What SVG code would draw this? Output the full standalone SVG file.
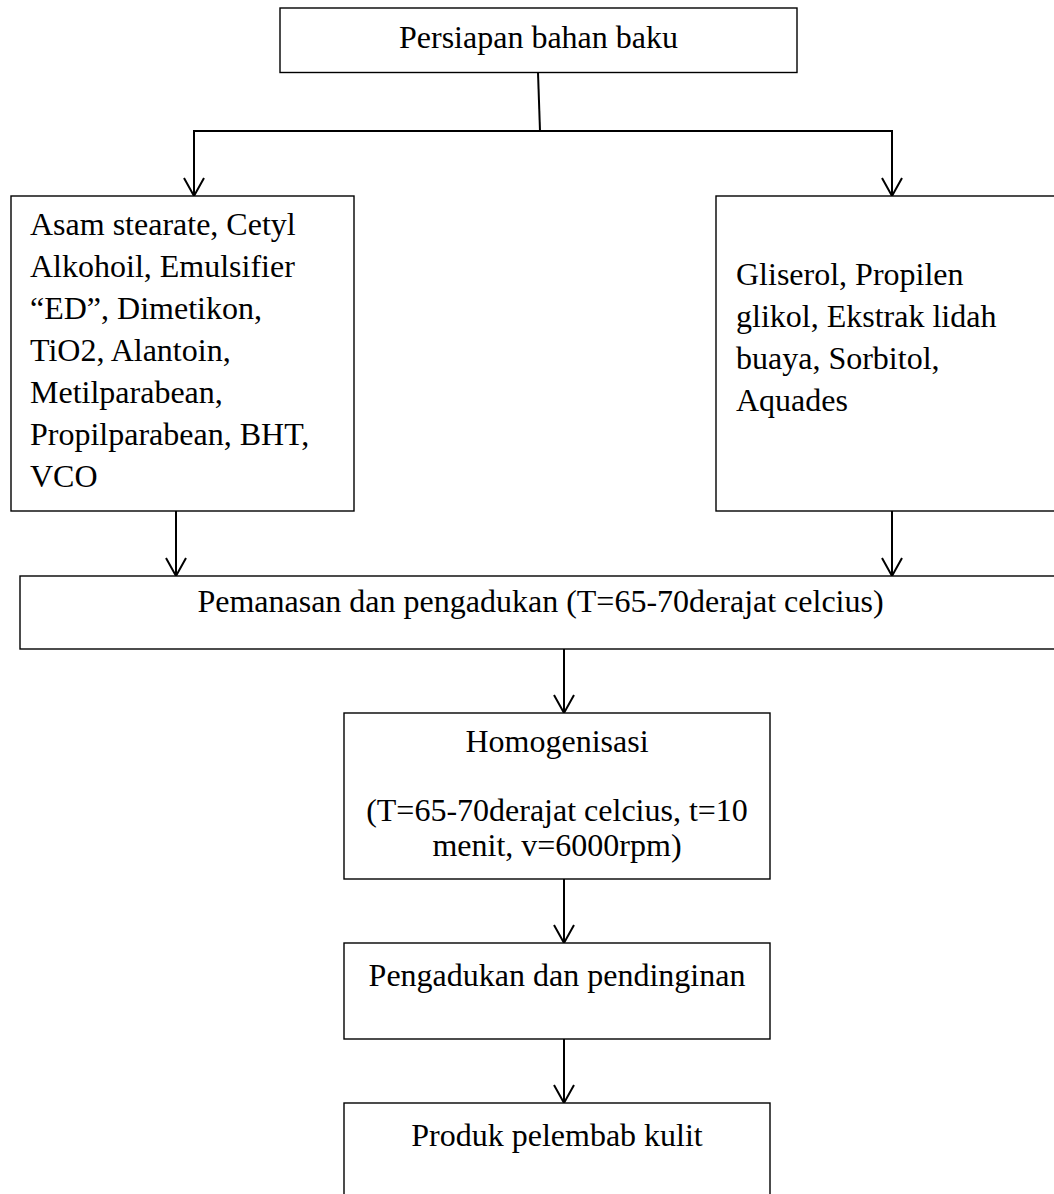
<svg xmlns="http://www.w3.org/2000/svg" width="1054" height="1194" viewBox="0 0 1054 1194">
  <style>
    .box { fill: #ffffff; stroke: #000000; stroke-width: 1.4; }
    .t { font-family: "Liberation Serif", "Times New Roman", serif; font-size: 32px; fill: #000000; }
    .c { text-anchor: middle; }
    .conn { stroke: #000000; stroke-width: 2; fill: none; }
  </style>
  <defs>
    <marker id="arrow" markerUnits="userSpaceOnUse" markerWidth="24" markerHeight="24" refX="0" refY="0" orient="auto" overflow="visible">
      <path d="M-18,-10 L0,0 L-18,10" fill="none" stroke="#000000" stroke-width="2"/>
    </marker>
  </defs>
  <rect width="1054" height="1194" fill="#ffffff"/>

  <g id="connectors">
    <line class="conn" x1="538" y1="72.5" x2="540" y2="131"/>
    <line class="conn" x1="193" y1="131" x2="893" y2="131"/>
    <line class="conn" x1="194" y1="131" x2="194" y2="196" marker-end="url(#arrow)"/>
    <line class="conn" x1="892" y1="131" x2="892" y2="196" marker-end="url(#arrow)"/>
    <line class="conn" x1="176" y1="511" x2="176" y2="576" marker-end="url(#arrow)"/>
    <line class="conn" x1="892" y1="511" x2="892" y2="576" marker-end="url(#arrow)"/>
    <line class="conn" x1="564" y1="649" x2="564" y2="713" marker-end="url(#arrow)"/>
    <line class="conn" x1="564" y1="879" x2="564" y2="943" marker-end="url(#arrow)"/>
    <line class="conn" x1="564" y1="1039" x2="564" y2="1103" marker-end="url(#arrow)"/>
  </g>

  <g id="node-persiapan">
    <rect class="box" x="280" y="8" width="517" height="64.5"/>
    <text class="t c" x="538.5" y="48">Persiapan bahan baku</text>
  </g>

  <g id="node-fase-minyak">
    <rect class="box" x="11" y="196" width="343" height="315"/>
    <text class="t" x="30" y="235">Asam stearate, Cetyl</text>
    <text class="t" x="30" y="277">Alkohoil, Emulsifier</text>
    <text class="t" x="30" y="319">“ED”, Dimetikon,</text>
    <text class="t" x="30" y="361">TiO2, Alantoin,</text>
    <text class="t" x="30" y="403">Metilparabean,</text>
    <text class="t" x="30" y="445">Propilparabean, BHT,</text>
    <text class="t" x="30" y="487">VCO</text>
  </g>

  <g id="node-fase-air">
    <rect class="box" x="716" y="196" width="350" height="315"/>
    <text class="t" x="736" y="285">Gliserol, Propilen</text>
    <text class="t" x="736" y="327">glikol, Ekstrak lidah</text>
    <text class="t" x="736" y="369">buaya, Sorbitol,</text>
    <text class="t" x="736" y="411">Aquades</text>
  </g>

  <g id="node-pemanasan">
    <rect class="box" x="20" y="576" width="1041" height="73"/>
    <text class="t c" x="540.5" y="612">Pemanasan dan pengadukan (T=65-70derajat celcius)</text>
  </g>

  <g id="node-homogenisasi">
    <rect class="box" x="344" y="713" width="426" height="166"/>
    <text class="t c" x="557" y="752">Homogenisasi</text>
    <text class="t c" x="557" y="821">(T=65-70derajat celcius, t=10</text>
    <text class="t c" x="557" y="856">menit, v=6000rpm)</text>
  </g>

  <g id="node-pendinginan">
    <rect class="box" x="344" y="943" width="426" height="96"/>
    <text class="t c" x="557" y="986">Pengadukan dan pendinginan</text>
  </g>

  <g id="node-produk">
    <rect class="box" x="344" y="1103" width="426" height="110"/>
    <text class="t c" x="557" y="1146">Produk pelembab kulit</text>
  </g>
</svg>
